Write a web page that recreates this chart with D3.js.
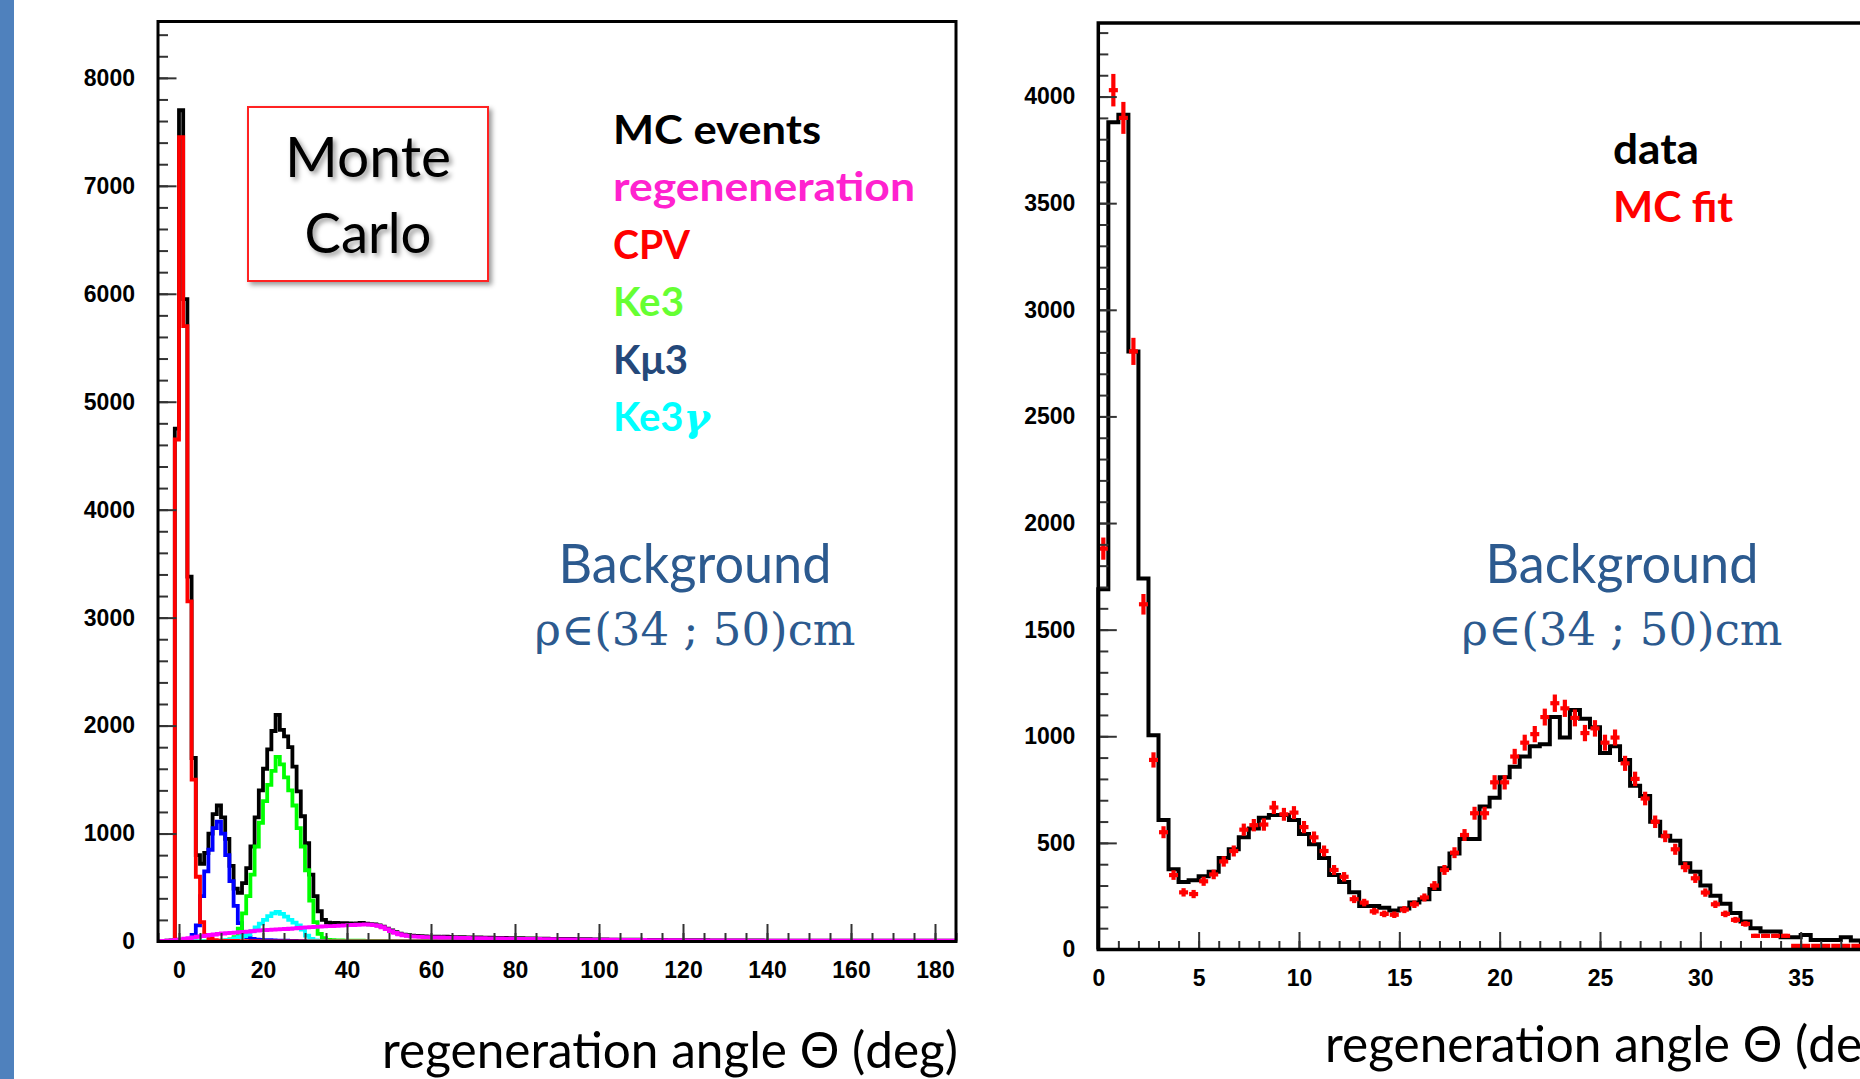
<!DOCTYPE html>
<html>
<head>
<meta charset="utf-8">
<script src="https://cdn.jsdelivr.net/npm/d3@7"></script>
<style>
  body { margin: 0; background: #fff; overflow: hidden; }
</style>
</head>
<body>
<div id="container"></div>
<script>
/* CONSTANTS AND GLOBALS */
const width = 1860,
  height = 1079;

/* DATA */
// left panel: MC histograms, 1 deg bins, each value is the bin [edge, edge+1)
const mcDomain = [-5, 185];
const mcBin = 1;

const totalStart = -5;
const totalVals = [
  4, 6, 8, 10, 4750,
  7700, 5950, 3380, 1700, 800,
  720, 820, 1000, 1180, 1260,
  1150, 950, 700, 490, 450,
  540, 680, 880, 1150, 1400,
  1600, 1780, 1950, 2100, 1960,
  1900, 1800, 1620, 1390, 1160,
  910, 620, 420, 280, 200,
  175, 170, 172, 168, 170,
  168, 165, 168, 172, 165,
  160, 158, 150, 138, 120,
  102, 86, 72, 64, 58,
  55, 52, 50, 48, 46,
  45, 44, 43, 44, 42,
  41, 40, 40, 39, 38,
  37, 37, 36, 35, 35,
  34, 33, 33, 32, 31,
  30, 30, 29, 29, 28,
  27, 27, 26, 25, 25,
  24, 24, 23, 23, 22,
  21, 21, 21, 20, 20,
  19, 19, 18, 18, 17,
  17, 17, 16, 16, 16,
  15, 15, 15, 14, 14,
  14, 13, 13, 13, 13,
  12, 12, 12, 12, 12,
  12, 11, 11, 11, 11,
  11, 10, 10, 10, 10,
  10, 10, 10, 10, 9,
  9, 9, 9, 9, 9,
  9, 9, 9, 9, 9,
  9, 9, 9, 9, 9,
  9, 9, 8, 9, 9,
  8, 8, 9, 8, 8,
  8, 8, 8, 8, 8,
  8, 8, 8, 8, 8,
  8, 8, 8, 8, 8,
  8, 8, 8, 8, 8
];

const regenStart = -5;
const regenVals = [
  4, 6, 8, 10, 14,
  20, 26, 32, 38, 44,
  50, 55, 60, 65, 70,
  74, 77, 80, 83, 86,
  89, 92, 96, 100, 103,
  106, 108, 110, 112, 114,
  116, 118, 121, 125, 128,
  130, 133, 135, 137, 140,
  142, 143, 145, 147, 150,
  151, 153, 155, 157, 158,
  156, 152, 145, 132, 115,
  96, 80, 67, 58, 52,
  48, 45, 43, 41, 40,
  39, 38, 37, 36, 35,
  35, 34, 33, 33, 32,
  31, 31, 30, 29, 29,
  28, 28, 27, 26, 26,
  25, 25, 24, 24, 23,
  23, 22, 22, 21, 21,
  20, 20, 20, 19, 19,
  18, 18, 18, 17, 17,
  17, 16, 16, 16, 15,
  15, 15, 14, 14, 14,
  14, 13, 13, 13, 13,
  12, 12, 12, 12, 12,
  11, 11, 11, 11, 11,
  11, 10, 10, 10, 10,
  10, 10, 10, 10, 9,
  9, 9, 9, 9, 9,
  9, 9, 9, 9, 9,
  8, 9, 8, 8, 8,
  8, 8, 8, 8, 8,
  8, 8, 8, 8, 8,
  8, 8, 8, 8, 8,
  8, 8, 7, 8, 8,
  8, 8, 8, 8, 8,
  8, 8, 8, 8, 8,
  8, 8, 8, 8, 8
];

const cpvStart = -1;
const cpvVals = [4650, 7450, 5700, 3150, 1500, 600, 180, 60, 25, 12, 8, 6, 5, 5, 5, 4, 4, 4, 3, 3, 2, 2];

const ke3Start = 10;
const ke3Vals = [
  5, 10, 20, 40, 120, 260, 420, 620, 880, 1100,
  1300, 1450, 1580, 1710, 1640, 1520, 1400, 1260, 1050, 880,
  660, 380, 180, 70, 30, 15, 12, 10, 10, 9,
  8, 8, 7, 7, 6, 6, 5, 5, 4, 4,
  3, 3, 3, 2, 2, 2, 2, 1, 1, 1, 1
];

const kmu3Start = 1;
const kmu3Vals = [
  5, 20, 60, 150, 420, 650, 850, 1050, 1110, 1000,
  800, 560, 330, 170, 80, 40, 25, 18, 15, 13,
  12, 10, 9, 8, 7, 6, 5, 4, 3, 2
];

const ke3gStart = 8;
const ke3gVals = [
  3, 5, 8, 12, 18, 28, 40, 50, 65, 95,
  130, 165, 200, 235, 260, 275, 255, 230, 200, 175,
  150, 110, 55, 25, 10, 5, 3, 2
];

// right panel: data vs MC fit, 0.5 deg bins starting at 0
const fitDomain = [0, 40];
const fitBin = 0.5;
const dataVals = [
  1690, 3880, 3915, 2805, 1740, 1005, 607, 376, 317, 325,
  344, 365, 429, 470, 526, 567, 618, 631, 631, 607,
  542, 494, 429, 349, 317, 268, 204, 204, 196, 183,
  192, 220, 236, 284, 381, 450, 518, 518, 671, 712,
  808, 857, 905, 953, 962, 1090, 994, 1123, 1082, 1042,
  921, 953, 889, 768, 720, 599, 534, 510, 405, 365,
  300, 252, 215, 171, 131, 100, 84, 84, 58, 58,
  68, 45, 45, 45, 58, 42
];
const mcFitVals = [
  1880, 4030, 3900, 2805, 1619, 889, 550, 349, 268, 260,
  320, 352, 413, 462, 562, 583, 586, 666, 634, 642,
  574, 526, 462, 373, 341, 236, 220, 179, 167, 163,
  187, 212, 244, 300, 373, 454, 537, 639, 639, 784,
  784, 905, 970, 1010, 1090, 1155, 1131, 1086, 1015, 1037,
  970, 994, 873, 800, 708, 599, 531, 470, 386, 334,
  267, 212, 167, 139, 120, 64, 64, 64, 64, 17,
  17, 17, 17, 17, 17, 17
];

// tick values
const mcXMajor = [0, 20, 40, 60, 80, 100, 120, 140, 160, 180];
const mcXMinor = d3.range(-5, 186, 5);
const mcYMajor = [0, 1000, 2000, 3000, 4000, 5000, 6000, 7000, 8000];
const mcYMinor = d3.range(0, 8401, 200);
const fitXMajor = [0, 5, 10, 15, 20, 25, 30, 35];
const fitXMinor = d3.range(0, 41, 1);
const fitYMajor = [0, 500, 1000, 1500, 2000, 2500, 3000, 3500, 4000];
const fitYMinor = d3.range(0, 4301, 100);

const legendMC = [
  { text: "MC events", color: "#000000" },
  { text: "regeneneration", color: "#ff22cf" },
  { text: "CPV", color: "#ff0000" },
  { text: "Ke3", color: "#66ff33" },
  { text: "Kμ3", color: "#24487a" },
  { text: "Ke3", extra: "γ", color: "#00ffff" }
];
const legendFit = [
  { text: "data", color: "#000000" },
  { text: "MC fit", color: "#ff0000" }
];

/* HELPERS */
function padBins(start, vals, domain, bw) {
  const out = [];
  const n = Math.round((domain[1] - domain[0]) / bw);
  for (let i = 0; i < n; i++) {
    const x0 = domain[0] + i * bw;
    const k = Math.round((x0 - start) / bw);
    out.push({ x0: x0, x1: x0 + bw, v: (k >= 0 && k < vals.length) ? vals[k] : 0 });
  }
  return out;
}

function stepPath(bins, x, y) {
  const pts = [[bins[0].x0, 0]];
  bins.forEach(b => pts.push([b.x0, b.v]));
  pts.push([bins[bins.length - 1].x1, bins[bins.length - 1].v]);
  pts.push([bins[bins.length - 1].x1, 0]);
  return d3.line()
    .x(d => x(d[0]))
    .y(d => y(d[1]))
    .curve(d3.curveStepAfter)(pts);
}

function styleAxis(g) {
  g.select(".domain").remove();
  g.selectAll("line").attr("stroke", "#333").attr("stroke-width", 2);
  g.selectAll("text")
    .attr("fill", "#000")
    .style("font-family", "'Liberation Sans', Arial, sans-serif")
    .style("font-weight", "bold")
    .style("font-size", "23px");
}

function drawAxes(svg, x, y, t) {
  const x0 = x.range()[0], yb = y.range()[0];
  svg.append("g").attr("transform", `translate(${x0},0)`)
    .call(d3.axisLeft(y).tickValues(t.yMinor).tickSize(-10).tickFormat(""))
    .call(styleAxis);
  svg.append("g").attr("transform", `translate(${x0},0)`)
    .call(d3.axisLeft(y).tickValues(t.yMajor).tickSize(-18.5).tickPadding(23).tickFormat(d3.format("d")))
    .call(styleAxis);
  svg.append("g").attr("transform", `translate(0,${yb})`)
    .call(d3.axisBottom(x).tickValues(t.xMinor).tickSize(-8.5).tickFormat(""))
    .call(styleAxis);
  svg.append("g").attr("transform", `translate(0,${yb})`)
    .call(d3.axisBottom(x).tickValues(t.xMajor).tickSize(-17.5).tickPadding(20).tickFormat(d3.format("d")))
    .call(styleAxis);
}

/* SVG */
const svg = d3.select("#container")
  .append("svg")
  .attr("width", width)
  .attr("height", height)
  .style("display", "block")
  .style("background-color", "#ffffff");

const defs = svg.append("defs");
defs.append("filter").attr("id", "shadow")
  .attr("x", "-20%").attr("y", "-20%").attr("width", "150%").attr("height", "150%")
  .append("feDropShadow")
  .attr("dx", 3).attr("dy", 3).attr("stdDeviation", 2.5)
  .attr("flood-color", "#000").attr("flood-opacity", 0.4);

// blue slide strip on the left edge
svg.append("rect").attr("x", 0).attr("y", 0).attr("width", 14).attr("height", height)
  .attr("fill", "#4f81bd");

/* LEFT PANEL: MC */
const xL = d3.scaleLinear().domain(mcDomain).range([158, 956]);
const yL = d3.scaleLinear().domain([0, 8522]).range([941.5, 21.5]);

defs.append("clipPath").attr("id", "clipL")
  .append("rect").attr("x", 158).attr("y", 21.5).attr("width", 798).attr("height", 920);

const gL = svg.append("g").attr("clip-path", "url(#clipL)");
const mcSeries = [
  { start: totalStart, vals: totalVals, color: "#000000" },
  { start: kmu3Start, vals: kmu3Vals, color: "#0000ff" },
  { start: ke3Start, vals: ke3Vals, color: "#00ff00" },
  { start: ke3gStart, vals: ke3gVals, color: "#00ffff" },
  { start: cpvStart, vals: cpvVals, color: "#ff0000" },
  { start: regenStart, vals: regenVals, color: "#ff00ff" }
];
gL.selectAll(".hist")
  .data(mcSeries)
  .join("path")
  .attr("class", "hist")
  .attr("d", s => stepPath(padBins(s.start, s.vals, mcDomain, mcBin), xL, yL))
  .attr("fill", "none")
  .attr("stroke", s => s.color)
  .attr("stroke-width", 3.8);

drawAxes(svg, xL, yL, { xMajor: mcXMajor, xMinor: mcXMinor, yMajor: mcYMajor, yMinor: mcYMinor });

svg.append("rect")
  .attr("x", xL.range()[0]).attr("y", yL.range()[1])
  .attr("width", xL.range()[1] - xL.range()[0])
  .attr("height", yL.range()[0] - yL.range()[1])
  .attr("fill", "none").attr("stroke", "#000").attr("stroke-width", 3);

/* RIGHT PANEL: data vs MC fit */
const xR = d3.scaleLinear().domain(fitDomain).range([1098.3, 1901]);
const yR = d3.scaleLinear().domain([0, 4345]).range([949.5, 23]);

svg.append("path")
  .attr("d", stepPath(padBins(0, dataVals, [0, dataVals.length * fitBin], fitBin), xR, yR))
  .attr("fill", "none")
  .attr("stroke", "#000")
  .attr("stroke-width", 4);

const fitPts = mcFitVals.map((v, i) => ({ x0: i * fitBin, x1: (i + 1) * fitBin, v: v }));
const cross = svg.append("g").attr("stroke", "#ff0000").attr("stroke-width", 4.2);
cross.selectAll(".eh")
  .data(fitPts)
  .join("line")
  .attr("class", "eh")
  .attr("x1", d => xR(d.x0) + 0.5)
  .attr("x2", d => xR(d.x1) - 0.5)
  .attr("y1", d => yR(d.v))
  .attr("y2", d => yR(d.v));
// vertical error bars (statistical, sqrt of bin content)
cross.selectAll(".ev")
  .data(fitPts)
  .join("line")
  .attr("class", "ev")
  .attr("x1", d => xR((d.x0 + d.x1) / 2))
  .attr("x2", d => xR((d.x0 + d.x1) / 2))
  .attr("y1", d => yR(d.v + 1.2 * Math.sqrt(d.v)))
  .attr("y2", d => yR(d.v - 1.2 * Math.sqrt(d.v)));

drawAxes(svg, xR, yR, { xMajor: fitXMajor, xMinor: fitXMinor, yMajor: fitYMajor, yMinor: fitYMinor });

svg.append("rect")
  .attr("x", xR.range()[0]).attr("y", yR.range()[1])
  .attr("width", xR.range()[1] - xR.range()[0])
  .attr("height", yR.range()[0] - yR.range()[1])
  .attr("fill", "none").attr("stroke", "#000").attr("stroke-width", 3.5);

/* TEXT */
// Monte Carlo box
svg.append("rect")
  .attr("x", 248).attr("y", 107).attr("width", 240).attr("height", 174)
  .attr("fill", "#fff").attr("stroke", "#ff2020").attr("stroke-width", 2)
  .attr("filter", "url(#shadow)");
[["Monte", 177, 166], ["Carlo", 253, 127]].forEach(([t, yb, w]) => {
  svg.append("text")
    .attr("x", 368).attr("y", yb)
    .attr("text-anchor", "middle")
    .attr("textLength", w).attr("lengthAdjust", "spacingAndGlyphs")
    .style("font-family", "Lato, 'Open Sans', sans-serif")
    .style("font-size", "56px")
    .attr("fill", "#000")
    .attr("filter", "url(#shadow)")
    .text(t);
});

// legend, left panel
const legWidths = [208, 302, 77, 71, 75, 100];
svg.selectAll(".legL")
  .data(legendMC)
  .join("text")
  .attr("class", "legL")
  .attr("x", 613)
  .attr("y", (d, i) => 144 + i * 57.4)
  .attr("fill", d => d.color)
  .style("font-family", "Lato, 'Open Sans', sans-serif")
  .style("font-weight", "bold")
  .style("font-size", "40px")
  .each(function (d, i) {
    const t = d3.select(this);
    t.append("tspan").text(d.text);
    if (d.extra) {
      t.append("tspan")
        .style("font-family", "'DejaVu Serif', serif")
        .style("font-style", "italic")
        .style("font-weight", "bold")
        .text(d.extra);
    } else {
      t.attr("textLength", legWidths[i]).attr("lengthAdjust", "spacingAndGlyphs");
    }
  });

// legend, right panel
svg.selectAll(".legR")
  .data(legendFit)
  .join("text")
  .attr("class", "legR")
  .attr("x", 1613)
  .attr("y", (d, i) => 164 + i * 58)
  .attr("fill", d => d.color)
  .attr("textLength", (d, i) => [86, 120][i])
  .attr("lengthAdjust", "spacingAndGlyphs")
  .style("font-family", "Lato, 'Open Sans', sans-serif")
  .style("font-weight", "bold")
  .style("font-size", "42px")
  .text(d => d.text);

// region labels
[695, 1622].forEach(cx => {
  svg.append("text")
    .attr("x", cx).attr("y", 583)
    .attr("text-anchor", "middle")
    .attr("textLength", 273).attr("lengthAdjust", "spacingAndGlyphs")
    .attr("fill", "#2c5a8f")
    .style("font-family", "Lato, 'Open Sans', sans-serif")
    .style("font-size", "55px")
    .text("Background");
  svg.append("text")
    .attr("x", cx).attr("y", 645)
    .attr("text-anchor", "middle")
    .attr("textLength", 321).attr("lengthAdjust", "spacingAndGlyphs")
    .attr("fill", "#2c5a8f")
    .style("font-family", "'DejaVu Serif', serif")
    .style("font-size", "45px")
    .text("ρ∈(34 ; 50)cm");
});

// axis titles (the right one runs past the page edge, as in the slide)
[[382, 1068], [1325, 1062]].forEach(([x0, yb]) => {
  svg.append("text")
    .attr("x", x0).attr("y", yb)
    .attr("textLength", 576).attr("lengthAdjust", "spacingAndGlyphs")
    .attr("fill", "#000")
    .style("font-family", "Lato, 'Open Sans', sans-serif")
    .style("font-size", "50px")
    .text("regeneration angle Θ (deg)");
});
</script>
</body>
</html>
